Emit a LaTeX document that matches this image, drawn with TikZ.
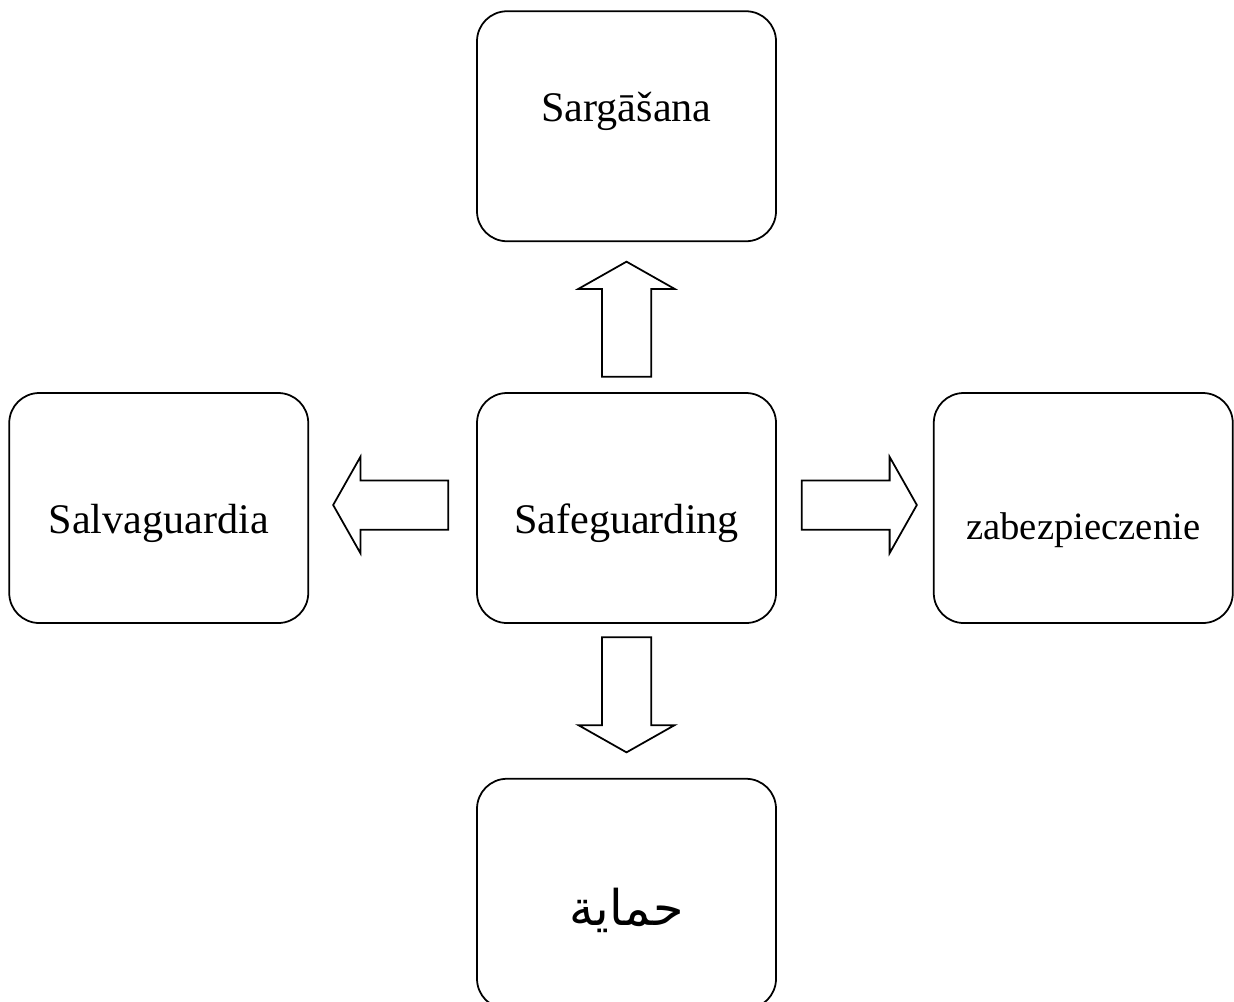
\documentclass[tikz,border=0pt]{standalone}
\usepackage{fontspec}
\setmainfont{Liberation Serif}
\newfontfamily\arabicfont[Script=Arabic]{DejaVu Sans}
\TeXXeTstate=1
\usetikzlibrary{positioning, shapes.arrows, calc}

\tikzset{
  box/.style={draw, line width=1pt, rounded corners=0.6cm, minimum width=5.98cm,
    minimum height=4.6cm, inner sep=0pt, font=\fontsize{24}{28}\selectfont},
  fat/.style={draw, line width=1pt, single arrow, single arrow head extend=0.47cm,
    single arrow tip angle=121, minimum height=2.3cm, inner xsep=0pt, inner ysep=0.475cm}
}

\begin{document}
\begin{tikzpicture}[node distance=3cm]
  \useasboundingbox (0,0) rectangle (24.68,-20.02);
  % boxes
  \node[box, text height=1cm, text depth=0pt] (safe) at (12.53,-10.16) {Safeguarding};
  \node[box, above=of safe, text height=0pt, text depth=0.2cm] (sarg) {Sargāšana};
  \node[box, left=3.34cm of safe, text height=1cm, text depth=0pt] (salv) {Salvaguardia};
  \node[box, right=3.12cm of safe, text height=1.24cm, text depth=0pt,
    font=\fontsize{22}{26}\selectfont] (zabe) {zabezpieczenie};
  \node[box, below=3.08cm of safe, text height=1.28cm, text depth=0pt,
    font=\fontsize{28}{32}\selectfont] (hima) {\arabicfont\beginR حماية\endR};
  % arrows
  \node[fat, rotate=90] (toSarg) at ($(safe.north)!0.5!(sarg.south)+(0,-0.18)$) {};
  \node[fat, rotate=180] (toSalv) at ($(safe.west)!0.5!(salv.east)+(0.1,0.06)$) {};
  \node[fat] (toZabe) at ($(safe.east)!0.5!(zabe.west)+(-0.05,0.06)$) {};
  \node[fat, rotate=-90] (toHima) at ($(safe.south)!0.5!(hima.north)+(0,0.26)$) {};
\end{tikzpicture}
\end{document}
